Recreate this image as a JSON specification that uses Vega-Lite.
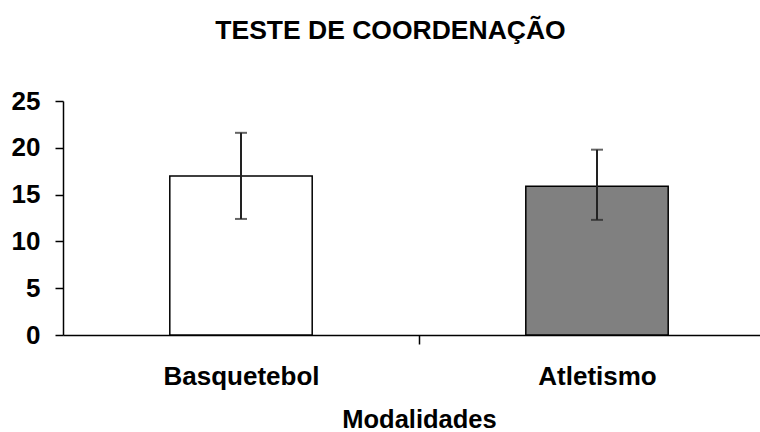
{
  "$schema": "https://vega.github.io/schema/vega-lite/v6.json",
  "autosize": "none",
  "width": 697,
  "height": 234,
  "padding": {"left": 63, "top": 101, "right": 0, "bottom": 97},
  "background": "white",
  "title": {
    "text": "TESTE DE COORDENAÇÃO",
    "font": "Liberation Sans",
    "fontSize": 26.5,
    "fontWeight": "bold",
    "color": "black",
    "anchor": "middle",
    "frame": "group",
    "dx": -21,
    "offset": 17,
    "baseline": "bottom"
  },
  "data": {
    "values": [
      {"modalidade": "Basquetebol", "media": 17.0, "min": 12.4, "max": 21.6, "cor": "white"},
      {"modalidade": "Atletismo", "media": 15.9, "min": 12.3, "max": 19.8, "cor": "#808080"}
    ]
  },
  "config": {
    "view": {"stroke": null},
    "axis": {"labelFont": "Liberation Sans", "titleFont": "Liberation Sans", "labelColor": "black", "titleColor": "black", "domainColor": "black", "tickColor": "black"}
  },
  "encoding": {
    "x": {
      "field": "modalidade",
      "type": "nominal",
      "sort": ["Basquetebol", "Atletismo"],
      "scale": {"range": [0, 712], "paddingInner": 0.6, "paddingOuter": 0.3},
      "axis": {
        "title": "Modalidades",
        "titleFontSize": 25.5,
        "titleFontWeight": "bold",
        "titlePadding": 18,
        "labelAngle": 0,
        "labelFontSize": 26,
        "labelFontWeight": "bold",
        "labelPadding": 19,
        "tickSize": 9,
        "tickWidth": 1.5,
        "domainWidth": 1.5,
        "tickOffset": 178,
        "labelOffset": -178,
        "grid": false
      }
    }
  },
  "layer": [
    {
      "mark": {"type": "bar", "stroke": "black", "strokeWidth": 1.5},
      "encoding": {
        "y": {
          "field": "media",
          "type": "quantitative",
          "scale": {"domain": [0, 25], "nice": false},
          "axis": {
            "title": null,
            "values": [0, 5, 10, 15, 20, 25],
            "labelFontSize": 26,
            "labelFontWeight": "bold",
            "labelPadding": 15,
            "tickSize": 8,
            "tickWidth": 1.5,
            "domainWidth": 1.5,
            "grid": false
          }
        },
        "fill": {"field": "cor", "type": "nominal", "scale": null}
      }
    },
    {
      "mark": {"type": "errorbar", "ticks": {"size": 12, "thickness": 2, "color": "#222222"}, "rule": {"strokeWidth": 2, "color": "#222222"}},
      "encoding": {
        "y": {"field": "min", "type": "quantitative"},
        "y2": {"field": "max"}
      }
    }
  ]
}
